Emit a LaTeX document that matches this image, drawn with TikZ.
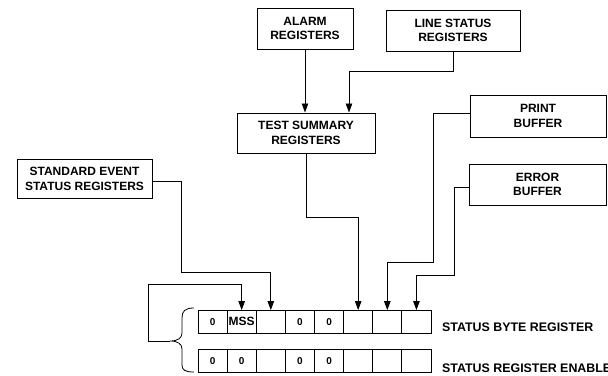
\documentclass[tikz,border=0pt]{standalone}
\usepackage{fontspec}
\setmainfont{Liberation Sans}
\usetikzlibrary{arrows.meta}
\begin{document}
\begin{tikzpicture}[x=1pt,y=-1pt,
  box/.style={draw, line width=1pt, inner sep=0pt, align=center,
    font=\fontsize{12}{14.5}\selectfont\bfseries},
  cell/.style={draw, line width=0.9pt, minimum width=29.125pt, minimum height=22.5pt,
    inner sep=0pt, font=\fontsize{10}{12}\selectfont\bfseries},
  lab/.style={anchor=west, inner sep=0pt, font=\fontsize{12.4}{14}\selectfont\bfseries},
  conn/.style={line width=0.8pt},
  arr/.style={conn, -{Triangle[length=9pt,width=6.5pt]}}]
\useasboundingbox (0,0) rectangle (608,375);
\clip (0,0) rectangle (608,375);

% boxes
\node[box, minimum width=96pt, minimum height=41pt] (alarm) at (305,28.5) {ALARM\\REGISTERS};
\node[box, minimum width=134pt, minimum height=41pt] (ls) at (453,30.5) {LINE STATUS\\REGISTERS};
\node[box, minimum width=138pt, minimum height=40pt] (tsr) at (306,133) {TEST SUMMARY\\REGISTERS};
\node[box, minimum width=136pt, minimum height=42pt] (print) at (538,116) {PRINT\\BUFFER};
\node[box, minimum width=137pt, minimum height=41pt] (error) at (537.5,184.5) {ERROR\\BUFFER};
\node[box, minimum width=135pt, minimum height=39pt] (sesr) at (84.5,179) {STANDARD EVENT\\STATUS REGISTERS};

% register cells
\foreach \i/\t in {1/0,2/{\fontsize{12}{12}\selectfont MSS},3/,4/0,5/0,6/,7/,8/} {
  \node[cell] (c\i) at ({198+29.125*(\i-0.5)},321.75) {\t};
}
\foreach \i/\t in {1/0,2/0,3/,4/0,5/0,6/,7/,8/} {
  \node[cell] (e\i) at ({198+29.125*(\i-0.5)},361) {\t};
}

\node[lab] (sbr) at (442,327) {STATUS BYTE REGISTER};
\node[lab] (sre) at (442,368) {STATUS REGISTER ENABLE};

% brace
\coordinate (tip) at (170,341);
\draw[line width=0.8pt] (194,308) .. controls (185,308) and (182,311) .. (182,318)
  -- (182,333) .. controls (182,338) and (178,341) .. (tip)
  .. controls (178,341) and (182,344) .. (182,349)
  -- (182,365) .. controls (182,370) and (185,372) .. (194,372);

% connectors
\draw[arr] (alarm.south) -- (alarm.south |- tsr.north);
\draw[arr] (ls.south) -- ++(0,20) -| ([xshift=43pt]tsr.north);
\draw[arr] (tsr.south) -- ++(0,64) -| (c6.north);
\draw[arr] ([yshift=3pt]print.west) -- ++(-36,0) -- ++(0,149) -| (c7.north);
\draw[arr] ([yshift=-2.5pt]error.west) -- ++(-14,0) -- ++(0,88) -| (c8.north);
\draw[arr] ([yshift=-2pt]sesr.east) -- ++(29,0) -- ++(0,91) -| (c3.north);
\draw[arr] (tip) -- ++(-22,0) -- ++(0,-57) -| (c2.north);
\end{tikzpicture}
\end{document}
